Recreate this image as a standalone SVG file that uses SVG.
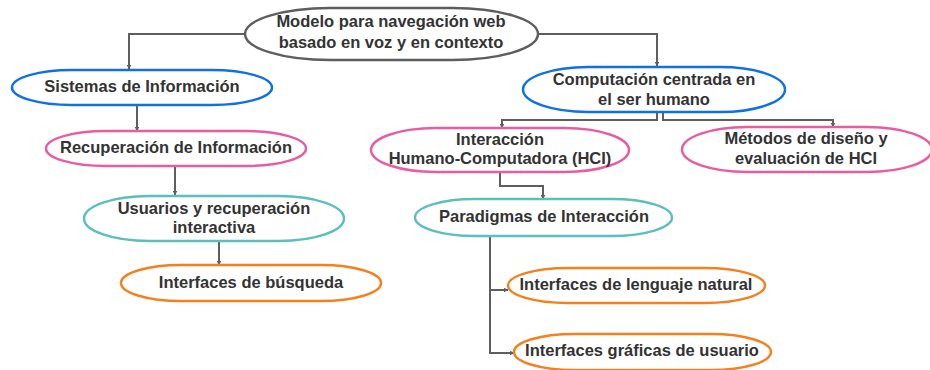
<svg xmlns="http://www.w3.org/2000/svg" width="930" height="370" viewBox="0 0 930 370">
<defs>
<marker id="ah" viewBox="0 0 10 10" refX="9" refY="5" markerWidth="5" markerHeight="5" orient="auto" markerUnits="userSpaceOnUse">
<path d="M0,0 L10,5 L0,10 z" fill="#5e5e5e"/>
</marker>
<style>
.n{fill:#fff;stroke-width:2.5}
.g{stroke:#5e5e5e}
.b{stroke:#1071e5}
.p{stroke:#e85d9f}
.t{stroke:#5bbfbb}
.o{stroke:#f5801e}
text{font-family:"Liberation Sans",Arial,sans-serif;font-weight:bold;font-size:16.5px;fill:#333;text-anchor:middle}
.c{fill:none;stroke:#5e5e5e;stroke-width:2;marker-end:url(#ah)}
</style>
</defs>
<g id="connectors">
<path class="c" d="M245,34 H129 V69"/>
<path class="c" d="M538,34 H657 V66"/>
<path class="c" d="M137,105 V131"/>
<path class="c" d="M175,166 V195"/>
<path class="c" d="M219,241 V265"/>
<path class="c" d="M657,112 V120 H502 V128"/>
<path class="c" d="M663,112 V120 H833 V127"/>
<path class="c" d="M500,172 V186 H543 V199"/>
<path class="c" d="M490,236 V353 H514"/>
<path class="c" d="M490,290 H508"/>
</g>
<g id="n-modelo"><rect class="n g" x="245" y="8" width="293" height="52" rx="85" ry="26"/><text x="391" y="27">Modelo para navegación web</text><text x="391" y="48">basado en voz y en contexto</text></g>
<g id="n-sistemas"><rect class="n b" x="12" y="70" width="260" height="35" rx="60" ry="17.5"/><text x="142" y="92">Sistemas de Información</text></g>
<g id="n-recuperacion"><rect class="n p" x="46" y="131" width="260" height="35" rx="60" ry="17.5"/><text x="176" y="153">Recuperación de Información</text></g>
<g id="n-usuarios"><rect class="n t" x="84" y="196" width="260" height="45" rx="65" ry="22.5"/><text x="214" y="214">Usuarios y recuperación</text><text x="214" y="233">interactiva</text></g>
<g id="n-busqueda"><rect class="n o" x="121" y="265" width="260" height="36" rx="60" ry="18"/><text x="251" y="288">Interfaces de búsqueda</text></g>
<g id="n-computacion"><rect class="n b" x="523" y="67" width="262" height="45" rx="65" ry="22.5"/><text x="654" y="85">Computación centrada en</text><text x="654" y="105">el ser humano</text></g>
<g id="n-hci"><rect class="n p" x="371" y="128" width="258" height="44" rx="65" ry="22"/><text x="500" y="145">Interacción</text><text x="500" y="164">Humano-Computadora (HCI)</text></g>
<g id="n-metodos"><rect class="n p" x="682" y="127" width="250" height="45" rx="65" ry="22.5"/><text x="806" y="144">Métodos de diseño y</text><text x="806" y="164">evaluación de HCI</text></g>
<g id="n-paradigmas"><rect class="n t" x="415" y="199" width="257" height="37" rx="60" ry="18.5"/><text x="544" y="222">Paradigmas de Interacción</text></g>
<g id="n-lenguaje"><rect class="n o" x="508" y="268" width="257" height="35" rx="60" ry="17.5"/><text x="636" y="290">Interfaces de lenguaje natural</text></g>
<g id="n-graficas"><rect class="n o" x="514" y="334" width="257" height="36" rx="60" ry="18"/><text x="642" y="356">Interfaces gráficas de usuario</text></g>
</svg>
